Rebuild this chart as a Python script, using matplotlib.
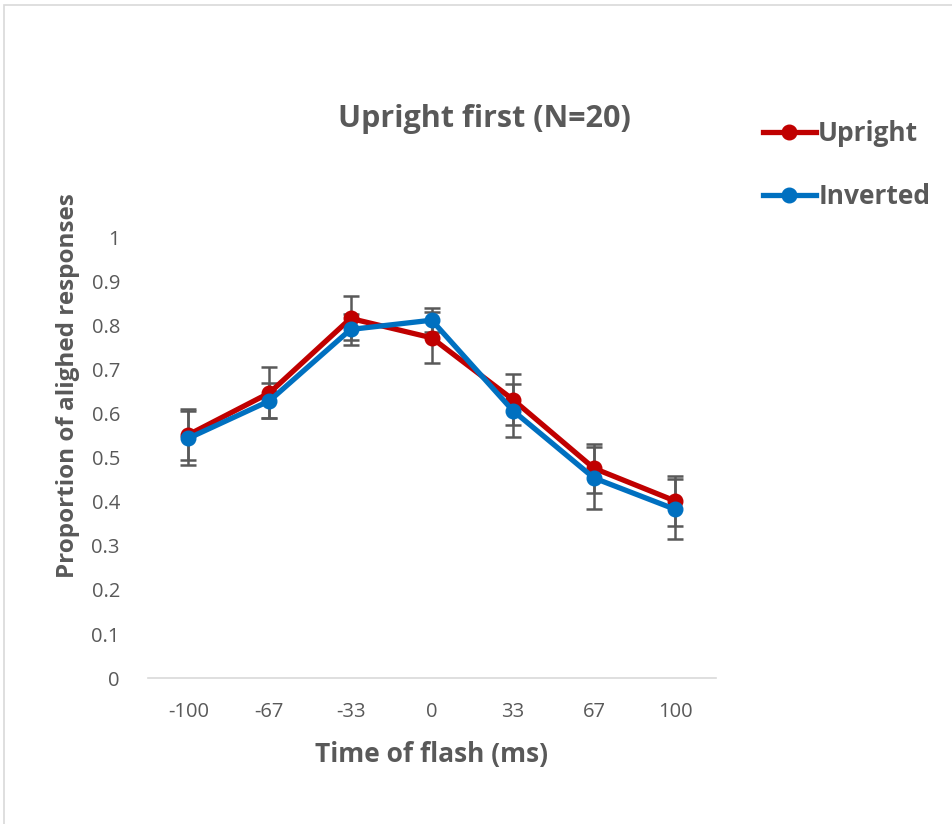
import matplotlib.pyplot as plt
from matplotlib.patches import Rectangle
import numpy as np

plt.rcParams['font.family'] = ['Open Sans', 'DejaVu Sans']

# data
flash_times = ['-100', '-67', '-33', '0', '33', '67', '100']
upright = [0.552, 0.647, 0.816, 0.772, 0.632, 0.476, 0.402]
upright_err = [0.058, 0.058, 0.050, 0.058, 0.058, 0.056, 0.056]
inverted = [0.544, 0.629, 0.791, 0.812, 0.607, 0.454, 0.383]
inverted_err = [0.061, 0.040, 0.036, 0.027, 0.060, 0.070, 0.068]

text_gray = '#595959'
red = '#C00000'
blue = '#0070C0'

fig = plt.figure(figsize=(9.53, 8.24), dpi=100)
ax = fig.add_axes([0.155, 0.177, 0.596, 0.535])

x = np.arange(len(flash_times))

# error bars first, lines on top
ax.errorbar(x, upright, yerr=upright_err, fmt='none', ecolor=text_gray,
            elinewidth=1.8, capsize=6, capthick=1.8, zorder=2)
ax.errorbar(x, inverted, yerr=inverted_err, fmt='none', ecolor=text_gray,
            elinewidth=1.8, capsize=6, capthick=1.8, zorder=2)
ax.plot(x, upright, color=red, lw=3.8, marker='o', ms=10.5, label='Upright', zorder=3)
ax.plot(x, inverted, color=blue, lw=3.8, marker='o', ms=10.5, label='Inverted', zorder=4)

ax.set_xlim(-0.5, len(flash_times) - 0.5)
ax.set_ylim(0, 1)
ax.set_xticks(x)
ax.set_xticklabels(flash_times)
ax.set_yticks(np.arange(0, 1.01, 0.1))
ax.set_yticklabels(['0'] + ['%.1f' % v for v in np.arange(0.1, 0.95, 0.1)] + ['1'])
ax.tick_params(axis='both', length=0, labelsize=14.5, colors=text_gray)
ax.tick_params(axis='x', pad=17)
ax.tick_params(axis='y', pad=20)

for side in ['top', 'right', 'left']:
    ax.spines[side].set_visible(False)
ax.spines['bottom'].set_color('#D9D9D9')
ax.spines['bottom'].set_linewidth(1.2)

ax.set_xlabel('Time of flash (ms)', fontsize=19, fontweight='bold', color=text_gray, labelpad=14)
fig.text(0.071, 0.532, 'Proportion of alighed responses', fontsize=17.5, fontweight='bold',
         color=text_gray, ha='center', va='center', rotation=90)

fig.text(0.508, 0.856, 'Upright first (N=20)', fontsize=22, fontweight='bold',
         color=text_gray, ha='center', va='center')

leg = fig.legend(loc='upper left', bbox_to_anchor=(0.7755, 0.883), frameon=False,
                 handlelength=2.0, handletextpad=0.1, labelspacing=1.35,
                 prop={'size': 19, 'weight': 'bold'})
for t in leg.get_texts():
    t.set_color(text_gray)

# faint chart-area border
fig.patches.append(Rectangle((4 / 953, -0.1), 1.2, 1 - 5 / 824 + 0.1, transform=fig.transFigure,
                             fill=False, edgecolor='#D9D9D9', lw=1.2))

fig.savefig('out.png', dpi=100)
